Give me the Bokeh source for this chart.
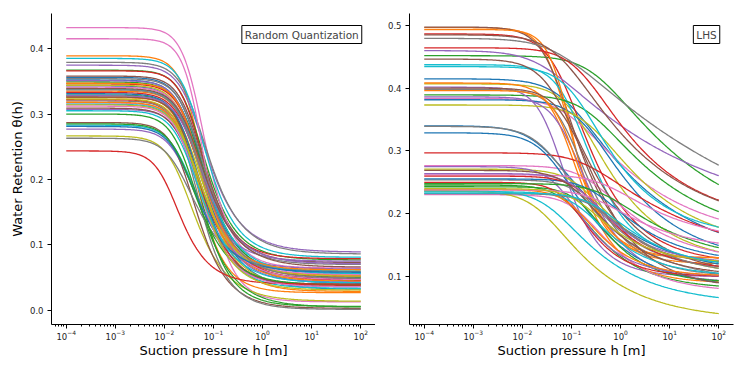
import numpy as np
from bokeh.plotting import figure
from bokeh.layouts import row
from bokeh.models import Range1d, FixedTicker, PrintfTickFormatter, Label, LogTickFormatter
from bokeh.embed import file_html
from bokeh.resources import INLINE

TAB10 = ["#1f77b4", "#ff7f0e", "#2ca02c", "#d62728", "#9467bd",
         "#8c564b", "#e377c2", "#7f7f7f", "#bcbd22", "#17becf"]

# suction pressure grid [m]
h_min_exp, h_max_exp = -4, 2

# ---- Random Quantization: van Genuchten parameters read per curve ----
rq_theta_s = [0.356, 0.389, 0.367, 0.366, 0.3746, 0.358, 0.432, 0.379, 0.327, 0.385,
              0.352, 0.335, 0.349, 0.346, 0.307, 0.309, 0.415, 0.354, 0.2665, 0.283,
              0.343, 0.325, 0.329, 0.333, 0.277, 0.287, 0.317, 0.320, 0.344, 0.315,
              0.331, 0.318, 0.300, 0.322, 0.351, 0.326, 0.341, 0.263, 0.314, 0.338,
              0.281, 0.347, 0.285, 0.2436, 0.328, 0.339, 0.312, 0.337, 0.323, 0.305]
rq_theta_r = [0.0566, 0.029, 0.077, 0.079, 0.089, 0.073, 0.0647, 0.086, 0.045, 0.081,
              0.041, 0.054, 0.050, 0.052, 0.075, 0.048, 0.013, 0.070, 0.0138, 0.060,
              0.032, 0.027, 0.006, 0.046, 0.063, 0.003, 0.047, 0.0015, 0.037, 0.0336,
              0.036, 0.044, 0.005, 0.038, 0.043, 0.040, 0.055, 0.059, 0.052, 0.056,
              0.058, 0.062, 0.039, 0.040, 0.071, 0.066, 0.036, 0.049, 0.031, 0.042]
rq_alpha = [26, 24, 25, 25, 25, 25.5, 22, 24, 30, 24,
            27, 28, 27, 27, 33, 33, 21, 26, 45, 40,
            28.5, 30, 29, 28.5, 41, 37.5, 31.5, 31, 28, 31.5,
            30, 31.5, 34.5, 31, 27, 30, 28, 46.5, 32, 28,
            41, 27, 39, 80, 29, 28, 32, 28.5, 31, 34]
rq_n = [1.95, 2.05, 1.95, 2.05, 1.85, 1.95, 2.15, 1.85, 1.85, 1.95,
        1.85, 1.95, 1.85, 1.95, 1.95, 1.85, 2.25, 1.95, 1.85, 1.85,
        1.85, 2.15, 2.05, 1.85, 1.85, 1.95, 1.85, 2.05, 1.95, 1.95,
        1.95, 1.85, 1.85, 1.95, 1.95, 2.05, 1.95, 1.8, 1.85, 1.85,
        1.85, 2.05, 1.85, 2.0, 1.85, 1.85, 1.95, 1.85, 1.95, 1.85]

# ---- LHS: van Genuchten parameters read per curve ----
lhs_theta_s = [0.4146, 0.496, 0.4514, 0.486, 0.4595, 0.497, 0.3837, 0.479, 0.4066, 0.437,
               0.3814, 0.493, 0.389, 0.464, 0.4013, 0.4846, 0.2767, 0.398, 0.373, 0.434,
               0.340, 0.408, 0.2458, 0.297, 0.386, 0.446, 0.2305, 0.339, 0.271, 0.2367,
               0.3288, 0.396, 0.243, 0.250, 0.275, 0.400, 0.262, 0.254, 0.236, 0.235,
               0.2555, 0.2385, 0.248, 0.260, 0.264, 0.269, 0.238, 0.232, 0.240, 0.233]
lhs_theta_r = [0.12, 0.12, 0.15, 0.12, 0.18, 0.12, 0.15, 0.10, 0.12, 0.12,
               0.12, 0.13, 0.15, 0.18, 0.10, 0.17, 0.12, 0.10, 0.14, 0.16,
               0.10, 0.09, 0.08, 0.12, 0.09, 0.10, 0.075, 0.09, 0.10, 0.055,
               0.08, 0.13, 0.09, 0.10, 0.10, 0.08, 0.15, 0.11, 0.03, 0.10,
               0.12, 0.10, 0.12, 0.11, 0.12, 0.10, 0.14, 0.10, 0.12, 0.11]
lhs_alpha = [12, 18, 3, 15, 40, 20, 10, 20, 8, 10,
             5, 15, 4, 6, 25, 15, 4, 12, 4, 8,
             38, 15, 10, 5, 12, 20, 6, 30, 6, 25,
             25, 12, 5, 10, 15, 10, 2, 5, 40, 6,
             3, 8, 2, 5, 6, 8, 3, 3, 6, 3]
lhs_n = [1.25, 1.8, 1.2, 1.5, 1.15, 1.6, 1.25, 1.1, 1.4, 1.6,
         1.35, 2.0, 1.25, 1.3, 1.8, 1.25, 1.35, 1.6, 1.3, 1.4,
         1.3, 1.7, 1.5, 1.2, 1.6, 1.4, 1.5, 1.35, 1.4, 1.35,
         1.4, 1.9, 1.6, 1.7, 1.6, 1.5, 1.3, 1.5, 1.35, 1.5,
         1.4, 1.6, 1.3, 1.5, 1.5, 1.45, 1.35, 1.4, 1.5, 1.4]

panel_titles = ["Random Quantization", "LHS"]
x_label = "Suction pressure h [m]"
y_label = "Water Retention θ(h)"

h = np.logspace(h_min_exp, h_max_exp, 240)


def van_genuchten(ts, tr, a, n):
    m = 1.0 - 1.0 / n
    return tr + (ts - tr) * (1.0 + (a * h) ** n) ** (-m)


FONT = "DejaVu Sans"
major = [10.0 ** e for e in range(-4, 3)]
minor = [k * 10.0 ** e for e in range(-5, 3) for k in range(2, 10)
         if 10 ** -4.3 <= k * 10.0 ** e <= 10 ** 2.3]


def make_panel(ts_list, tr_list, a_list, n_list, yrange, yticks, title,
               border_left, border_right, with_ylabel):
    p = figure(frame_width=324, frame_height=311, x_axis_type="log",
               x_range=Range1d(10 ** -4.3, 10 ** 2.3), y_range=Range1d(*yrange),
               output_backend="svg", toolbar_location=None,
               min_border_left=border_left, min_border_right=border_right,
               min_border_top=13, min_border_bottom=50)
    p.outline_line_color = None
    p.xgrid.visible = False
    p.ygrid.visible = False
    p.background_fill_color = "white"
    for i, (ts, tr, a, n) in enumerate(zip(ts_list, tr_list, a_list, n_list)):
        p.line(h, van_genuchten(ts, tr, a, n), line_color=TAB10[i % 10], line_width=1.3)

    p.xaxis.ticker = FixedTicker(ticks=major, minor_ticks=minor)
    p.xaxis.formatter = LogTickFormatter()
    p.yaxis.ticker = FixedTicker(ticks=yticks)
    p.yaxis.formatter = PrintfTickFormatter(format="%.1f")
    for ax in (p.xaxis[0], p.yaxis[0]):
        ax.axis_line_color = "black"
        ax.axis_line_width = 1
        ax.major_tick_in = 0
        ax.major_tick_out = 4
        ax.minor_tick_in = 0
        ax.minor_tick_out = 2
        ax.major_tick_line_color = "black"
        ax.minor_tick_line_color = "black"
        ax.major_label_text_font = FONT
        ax.major_label_text_font_size = "8.5px"
        ax.major_label_text_color = "#222222"
        ax.axis_label_text_font = FONT
        ax.axis_label_text_font_style = "normal"
        ax.axis_label_text_font_size = "13px"
        ax.axis_label_text_color = "black"
    p.yaxis.minor_tick_line_color = None
    p.xaxis.major_label_standoff = 1
    p.yaxis.major_label_standoff = 4
    p.xaxis.axis_label = x_label
    p.xaxis.axis_label_standoff = 0
    if with_ylabel:
        p.yaxis.axis_label = y_label
        p.yaxis.axis_label_standoff = 2

    ytop = yrange[1] - (yrange[1] - yrange[0]) * 12.0 / 311.0
    p.add_layout(Label(x=10 ** 2.02, y=ytop, text=title, text_font=FONT,
                       text_font_size="10.5px", text_align="right", text_baseline="top",
                       border_line_color="black", border_line_width=1,
                       background_fill_color="white", padding=3))
    return p


p1 = make_panel(rq_theta_s, rq_theta_r, rq_alpha, rq_n, (-0.0216, 0.4536),
                [0.0, 0.1, 0.2, 0.3, 0.4], panel_titles[0], 51, 0, True)
p2 = make_panel(lhs_theta_s, lhs_theta_r, lhs_alpha, lhs_n, (0.024, 0.5185),
                [0.1, 0.2, 0.3, 0.4, 0.5], panel_titles[1], 34, 5, False)

layout = row(p1, p2)
open("out.html", "w").write(file_html(layout, INLINE))
